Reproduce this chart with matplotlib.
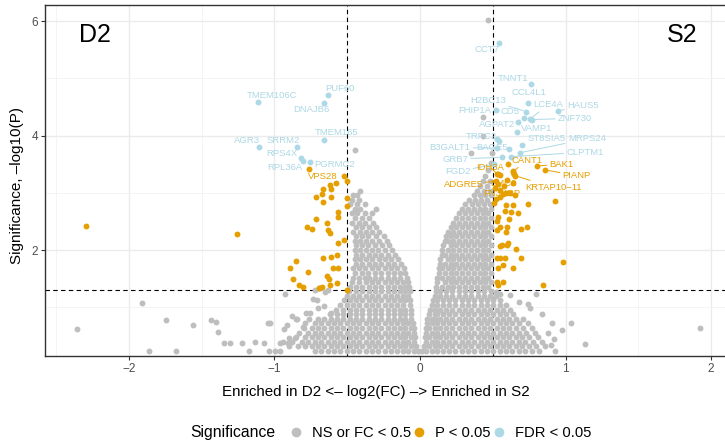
import matplotlib.pyplot as plt
from matplotlib.lines import Line2D

plt.rcParams['font.family'] = ['Liberation Sans', 'DejaVu Sans']

GREY = '#BEBEBE'
ORANGE = '#E69F00'
BLUE = '#ADD8E6'

# dense cloud of non-significant proteins, read off row by row: (y, x values)
gray_rows = [
    (0.24, "-.72 -.68 -.63 -.59 -.55 -.50 -.46 -.42 -.37 -.33 -.29 -.24 -.20 -.16 -.12 -.08 -.04 -.015 .015 .04 .08 .12 .16 .20 .24 .29 .33 .37 .42 .46 .50 .55 .59 .63 .68 .72 .77 .82"),
    (0.32, "-.90 -.84 -.79 -.74 -.70 -.66 -.61 -.57 -.53 -.48 -.44 -.40 -.35 -.31 -.27 -.22 -.18 -.14 -.10 -.06 -.03 .03 .06 .10 .14 .18 .22 .27 .31 .35 .40 .44 .48 .53 .57 .61 .66 .70 .75 .80 .86"),
    (0.40, "-.88 -.81 -.77 -.72 -.68 -.63 -.59 -.55 -.50 -.46 -.42 -.37 -.33 -.29 -.24 -.20 -.16 -.12 -.08 -.04 .04 .08 .12 .16 .20 .24 .29 .33 .37 .42 .46 .50 .55 .59 .63 .68 .72 .78 .84"),
    (0.48, "-.85 -.79 -.74 -.70 -.66 -.61 -.57 -.53 -.48 -.44 -.40 -.35 -.31 -.27 -.22 -.18 -.14 -.10 -.06 -.035 .035 .06 .10 .14 .18 .22 .27 .31 .35 .40 .44 .48 .53 .57 .61 .66 .70 .75 .81"),
    (0.56, "-.83 -.77 -.72 -.68 -.63 -.59 -.55 -.50 -.46 -.42 -.37 -.33 -.29 -.24 -.20 -.16 -.12 -.08 -.04 .04 .08 .12 .16 .20 .24 .29 .33 .37 .42 .46 .50 .55 .59 .63 .68 .73 .79"),
    (0.64, "-.80 -.74 -.70 -.66 -.61 -.57 -.53 -.48 -.44 -.40 -.35 -.31 -.27 -.22 -.18 -.14 -.10 -.065 -.04 .04 .065 .10 .14 .18 .22 .27 .31 .35 .40 .44 .48 .53 .57 .61 .66 .71 .77"),
    (0.72, "-.79 -.72 -.68 -.63 -.59 -.55 -.50 -.46 -.42 -.37 -.33 -.29 -.24 -.20 -.16 -.12 -.08 -.045 .045 .08 .12 .16 .20 .24 .29 .33 .37 .42 .46 .50 .55 .59 .63 .68 .74"),
    (0.80, "-.76 -.70 -.66 -.61 -.57 -.53 -.48 -.44 -.40 -.35 -.31 -.27 -.22 -.18 -.14 -.10 -.06 .05 .08 .10 .14 .18 .22 .27 .31 .35 .40 .44 .48 .53 .57 .61 .66 .71"),
    (0.88, "-.62 -.57 -.53 -.48 -.44 -.40 -.35 -.31 -.27 -.22 -.18 -.14 -.10 -.06 .06 .10 .12 .16 .20 .24 .29 .33 .37 .42 .46 .50 .55 .59 .64"),
    (0.96, "-.58 -.53 -.48 -.44 -.40 -.35 -.31 -.27 -.22 -.18 -.14 -.10 -.065 .07 .10 .14 .18 .22 .27 .31 .35 .40 .44 .48 .53 .57 .62"),
    (1.04, "-.55 -.50 -.46 -.42 -.37 -.33 -.29 -.24 -.20 -.16 -.12 -.07 .08 .12 .16 .20 .24 .29 .33 .37 .42 .46 .50 .55 .59"),
    (1.12, "-.52 -.48 -.44 -.40 -.35 -.31 -.27 -.22 -.18 -.14 -.10 -.07 .09 .12 .16 .20 .24 .29 .33 .37 .42 .46 .50 .55"),
    (1.20, "-.50 -.46 -.42 -.37 -.33 -.29 -.24 -.20 -.16 -.12 -.08 .10 .14 .18 .22 .27 .31 .35 .40 .44 .48 .52"),
    (1.28, "-.49 -.44 -.40 -.35 -.31 -.27 -.22 -.18 -.14 -.10 -.07 .11 .14 .18 .22 .27 .31 .35 .40 .44 .49"),
    (1.36, "-.48 -.44 -.40 -.35 -.31 -.27 -.22 -.18 -.14 -.10 -.075 .11 .15 .19 .23 .27 .31 .35 .39 .43 .47"),
    (1.44, "-.47 -.42 -.37 -.33 -.29 -.24 -.20 -.16 -.12 -.08 .12 .17 .21 .25 .29 .33 .37 .41 .45 .49"),
    (1.52, "-.46 -.42 -.38 -.35 -.31 -.27 -.22 -.18 -.14 -.09 .12 .15 .19 .23 .27 .31 .35 .39 .43 .47"),
    (1.60, "-.45 -.40 -.36 -.31 -.27 -.22 -.18 -.14 -.10 .13 .17 .21 .25 .29 .33 .37 .41 .45 .49"),
    (1.68, "-.46 -.42 -.38 -.33 -.29 -.24 -.20 -.16 -.11 .13 .15 .19 .23 .27 .31 .35 .39 .43 .47"),
    (1.76, "-.44 -.40 -.35 -.31 -.27 -.22 -.18 -.13 .14 .17 .21 .25 .29 .33 .37 .41 .45 .49"),
    (1.84, "-.45 -.41 -.37 -.33 -.28 -.24 -.20 -.15 .14 .19 .23 .27 .31 .35 .39 .43 .47"),
    (1.92, "-.44 -.40 -.35 -.31 -.27 -.22 -.17 .15 .17 .21 .25 .29 .33 .37 .41 .45 .49"),
    (2.00, "-.45 -.41 -.37 -.33 -.29 -.24 -.19 .15 .19 .23 .27 .31 .35 .39 .43 .47"),
    (2.08, "-.44 -.40 -.36 -.31 -.26 -.21 .16 .21 .25 .29 .33 .37 .41 .45 .49"),
    (2.16, "-.45 -.41 -.37 -.33 -.28 -.23 .17 .19 .23 .27 .31 .35 .39 .43 .47"),
    (2.24, "-.44 -.40 -.36 -.30 -.25 .18 .21 .25 .29 .33 .37 .41 .45 .49"),
    (2.32, "-.46 -.41 -.37 -.33 -.28 .19 .23 .27 .31 .35 .39 .43 .47"),
    (2.40, "-.44 -.40 -.35 -.30 .21 .25 .29 .33 .37 .41 .45 .49"),
    (2.48, "-.47 -.42 -.38 -.32 .23 .27 .31 .35 .39 .43 .47"),
    (2.56, "-.45 -.40 -.35 .25 .29 .33 .37 .41 .45 .49"),
    (2.64, "-.47 -.43 -.38 -.33 .27 .31 .35 .39 .43 .47"),
    (2.72, "-.45 -.41 -.30 .29 .33 .37 .41 .45 .49"),
    (2.80, "-.48 -.43 -.38 .31 .36 .40 .44 .48"),
    (2.88, "-.47 -.42 .34 .38 .42 .46"),
    (2.96, "-.46 -.43 .37 .41 .45 .49"),
    (3.04, "-.41 .39 .44 .48"),
    (3.12, ".41 .46"),
    (3.20, ".43 .48"),
    (3.30, ".45"),
    (3.40, ".47"),
]

# scattered non-significant proteins outside the dense cloud
gray_sparse_x = [-2.36, -1.913, -1.86, -1.746, -1.677, -1.562, -1.439, -1.402, -1.39, -1.345,
                 -1.306, -1.221, -1.173, -1.134, -1.072, -1.042, -1.031, -1.036, -0.997, -0.962,
                 -0.928, -0.916, -0.933, -0.852, -0.756, -0.806, -0.962, -0.94, -0.905, -0.859,
                 -0.733, -0.706, -0.722, -0.692, -0.653, -0.63, -0.847, -0.90, -0.78, -0.61,
                 -0.66, -0.70, -0.88, -0.447, 0.435, 0.435, 0.348, 0.497, 0.488, 0.467,
                 0.797, 0.756, 0.841, 0.909, 1.038, 0.978, 1.134, 0.928, 1.924, 0.52,
                 0.55, 0.62, 0.68, 0.74, 0.88, 0.92, 0.90]
gray_sparse_y = [0.63, 1.08, 0.24, 0.77, 0.24, 0.69, 0.77, 0.74, 0.57, 0.37,
                 0.37, 0.37, 0.24, 0.40, 0.37, 0.73, 0.73, 0.24, 0.24, 0.24,
                 1.23, 0.69, 0.63, 0.79, 0.90, 0.65, 0.37, 0.40, 0.37, 0.46,
                 1.14, 1.12, 1.30, 1.33, 1.27, 1.30, 0.79, 0.47, 0.90, 0.90,
                 1.02, 0.98, 0.84, 3.74, 4.32, 3.99, 3.69, 3.70, 3.52, 6.01,
                 1.24, 0.98, 0.88, 0.73, 0.72, 0.60, 0.36, 0.24, 0.64, 1.27,
                 1.24, 1.22, 1.10, 1.05, 0.55, 0.45, 0.35]

# P < 0.05 proteins without a label
orange_x = [0.607, 0.531, 0.550, 0.637, 0.637, 0.536, 0.591, 0.570, 0.619, 0.653,
            0.550, 0.522, 0.509, 0.928, 0.591, 0.637, 0.744, 0.584, 0.625, 0.676,
            0.538, 0.614, 0.527, 0.550, 0.600, 0.733, 0.692, 0.531, 0.591, 0.607,
            0.600, 0.550, 0.660, 0.531, 0.584, 0.550, 0.692, 0.981, 0.538, 0.570,
            0.637, 0.531, 0.573, 0.538, 0.847, 0.561, 0.515, 0.600, 0.580,
            -0.522, -0.500, -0.577, -0.612, -0.669, -0.676, -0.717, -0.665, -0.614, -0.500,
            -0.504, -0.561, -0.561, -0.715, -0.637, -0.775, -0.742, -0.630, -0.616, -0.520,
            -0.566, -0.852, -0.891, -0.768, -0.669, -0.612, -0.570, -0.596, -0.566, -0.637,
            -0.623, -0.871, -0.830, -0.806, -0.692, -0.671, -0.619, -0.568, -0.500, -0.619,
            -2.296, -1.256]
orange_y = [3.50, 3.33, 3.31, 3.38, 3.17, 3.16, 2.99, 2.98, 2.99, 2.96,
            2.93, 2.89, 2.83, 2.86, 2.79, 2.79, 2.81, 2.68, 2.67, 2.64,
            2.58, 2.54, 2.51, 2.41, 2.41, 2.41, 2.37, 2.35, 2.32, 2.12,
            2.09, 2.07, 2.02, 1.87, 1.86, 1.86, 1.87, 1.80, 1.68, 1.74,
            1.68, 1.45, 1.45, 1.39, 1.39, 2.09, 3.08, 3.22, 3.12,
            3.30, 3.20, 3.18, 3.07, 3.06, 2.98, 2.92, 2.84, 2.92, 2.91,
            2.77, 2.66, 2.58, 2.54, 2.47, 2.40, 2.37, 2.35, 2.30, 2.18,
            2.12, 1.81, 1.69, 1.61, 1.86, 1.88, 1.91, 1.68, 1.68, 1.55,
            1.49, 1.49, 1.39, 1.35, 1.34, 1.36, 1.39, 1.42, 1.31, 3.14,
            2.42, 2.28]

# extra FDR point without its own label
blue_x = [0.541]
blue_y = [3.91]

# labelled proteins: name, point x, point y, label x, label y, group, leader line
labels = [
    ('TMEM106C', -1.111, 4.59, -1.019, 4.70, 'fdr', False),
    ('PUF60', -0.634, 4.71, -0.548, 4.83, 'fdr', False),
    ('DNAJB6', -0.658, 4.57, -0.744, 4.45, 'fdr', False),
    ('TMEM165', -0.658, 3.93, -0.572, 4.05, 'fdr', False),
    ('AGR3', -1.104, 3.80, -1.189, 3.91, 'fdr', False),
    ('SRRM2', -0.847, 3.80, -0.938, 3.92, 'fdr', False),
    ('RPS4X', -0.818, 3.60, -0.951, 3.68, 'fdr', False),
    ('RPL36A', -0.804, 3.56, -0.926, 3.44, 'fdr', False),
    ('PGRMC2', -0.754, 3.54, -0.588, 3.49, 'fdr', False),
    ('VPS28', -0.763, 3.42, -0.668, 3.28, 'p', False),
    ('CCT7', 0.543, 5.61, 0.458, 5.50, 'fdr', False),
    ('TNNT1', 0.763, 4.90, 0.641, 4.99, 'fdr', False),
    ('CCL4L1', 0.745, 4.57, 0.749, 4.76, 'fdr', False),
    ('H2BC13', 0.729, 4.42, 0.470, 4.62, 'fdr', True),
    ('FHIP1A', 0.520, 4.44, 0.373, 4.43, 'fdr', False),
    ('CD5', 0.715, 4.30, 0.619, 4.42, 'fdr', False),
    ('LCE4A', 0.756, 4.29, 0.882, 4.54, 'fdr', True),
    ('HAUS5', 0.946, 4.43, 1.120, 4.52, 'fdr', True),
    ('ZNF730', 0.772, 4.28, 1.065, 4.30, 'fdr', True),
    ('AGPAT2', 0.676, 4.23, 0.527, 4.20, 'fdr', False),
    ('VAMP1', 0.669, 4.07, 0.802, 4.13, 'fdr', False),
    ('TRPC2', 0.527, 3.94, 0.424, 3.99, 'fdr', False),
    ('ST8SIA5', 0.703, 3.83, 0.871, 3.94, 'fdr', True),
    ('MRPS24', 0.687, 3.70, 1.146, 3.94, 'fdr', True),
    ('CLPTM1', 0.625, 3.63, 1.134, 3.71, 'fdr', True),
    ('B3GALT1', 0.530, 3.78, 0.206, 3.79, 'fdr', True),
    ('BAGE5', 0.614, 3.77, 0.493, 3.79, 'fdr', False),
    ('GRB7', 0.561, 3.62, 0.241, 3.59, 'fdr', True),
    ('FGD2', 0.510, 3.50, 0.259, 3.37, 'fdr', True),
    ('CANT1', 0.641, 3.37, 0.733, 3.57, 'p', True),
    ('BAK1', 0.806, 3.47, 0.974, 3.50, 'p', True),
    ('PIANP', 0.859, 3.40, 1.077, 3.30, 'p', True),
    ('IDH3A', 0.538, 3.32, 0.481, 3.44, 'p', True),
    ('KRTAP10\u221211', 0.653, 3.30, 0.916, 3.09, 'p', True),
    ('ADGRE5', 0.522, 3.20, 0.298, 3.15, 'p', True),
    ('EMC2', 0.646, 3.33, 0.573, 3.17, 'p', True),
    ('FN3KRP', 0.550, 3.05, 0.561, 2.98, 'p', False),
]

colors = {'fdr': BLUE, 'p': ORANGE}

fig = plt.figure(figsize=(7.25, 4.46), dpi=100)
ax = fig.add_axes([45 / 725, 1 - 356 / 446, 1 - 45 / 725, 351 / 446])

gray_x, gray_y = [], []
for y, xs in gray_rows:
    for v in xs.split():
        gray_x.append(float(v))
        gray_y.append(y)
gray_x += gray_sparse_x
gray_y += gray_sparse_y

pt_size = 18
ax.scatter(gray_x, gray_y, s=pt_size, color=GREY, linewidths=0, zorder=2)
lab_p = [l for l in labels if l[5] == 'p']
lab_f = [l for l in labels if l[5] == 'fdr']
ax.scatter(orange_x + [l[1] for l in lab_p], orange_y + [l[2] for l in lab_p],
           s=pt_size, color=ORANGE, linewidths=0, zorder=3)
ax.scatter(blue_x + [l[1] for l in lab_f], blue_y + [l[2] for l in lab_f],
           s=pt_size, color=BLUE, linewidths=0, zorder=4)

for name, px, py, tx, ty, grp, line in labels:
    c = colors[grp]
    props = dict(arrowstyle='-', color=c, lw=0.7, shrinkA=0, shrinkB=2) if line else None
    ax.annotate(name, xy=(px, py), xytext=(tx, ty), ha='center', va='center',
                fontsize=6.8, color=c, arrowprops=props, zorder=5)

# thresholds
ax.axhline(1.30103, color='black', lw=0.8, dashes=(4, 3), zorder=1.5)
ax.axvline(-0.5, color='black', lw=0.8, dashes=(4, 3), zorder=1.5)
ax.axvline(0.5, color='black', lw=0.8, dashes=(4, 3), zorder=1.5)

ax.set_xlim(-2.577, 2.096)
ax.set_ylim(0.15, 6.28)
ax.set_xticks([-2, -1, 0, 1, 2])
ax.set_xticklabels(['\u22122', '\u22121', '0', '1', '2'])
ax.set_yticks([2, 4, 6])
ax.set_xticks([-2.5, -1.5, -0.5, 0.5, 1.5], minor=True)
ax.set_yticks([1, 3, 5], minor=True)
ax.grid(which='major', color='#EBEBEB', lw=1.0, zorder=0)
ax.grid(which='minor', color='#F2F2F2', lw=0.6, zorder=0)
ax.set_axisbelow(True)
ax.tick_params(which='major', length=3, color='#333333', labelcolor='#4D4D4D',
               labelsize=8.5, pad=2)
ax.tick_params(which='minor', length=0)
for side in ['left', 'bottom', 'top']:
    ax.spines[side].set_color('#333333')
    ax.spines[side].set_linewidth(1.0)
ax.spines['right'].set_visible(False)

fig.text(95 / 725, 1 - 35 / 446, 'D2', fontsize=18, ha='center', va='center')
fig.text(682 / 725, 1 - 35 / 446, 'S2', fontsize=18, ha='center', va='center')

fig.text(376 / 725, 1 - 392 / 446, 'Enriched in D2 <\u2013 log2(FC) \u2013> Enriched in S2',
         fontsize=10.9, ha='center', va='center')
fig.text(17 / 725, 1 - 185 / 446, 'Significance, \u2013log10(P)', fontsize=11,
         ha='center', va='center', rotation=90)

# legend
fig.text(190 / 725, 1 - 433 / 446, 'Significance', fontsize=11.3, ha='left', va='center')
handles = [Line2D([], [], ls='', marker='o', ms=7, color=c, mec='none')
           for c in [GREY, ORANGE, BLUE]]
fig.legend(handles, ['NS or FC < 0.5', 'P < 0.05', 'FDR < 0.05'], ncol=3,
           loc='center left', bbox_to_anchor=(290 / 725, 1 - 433 / 446), frameon=False,
           fontsize=10.6, handletextpad=0.7, columnspacing=0.15, handlelength=0.8,
           borderaxespad=0, borderpad=0)

fig.savefig('out.png', dpi=100)
